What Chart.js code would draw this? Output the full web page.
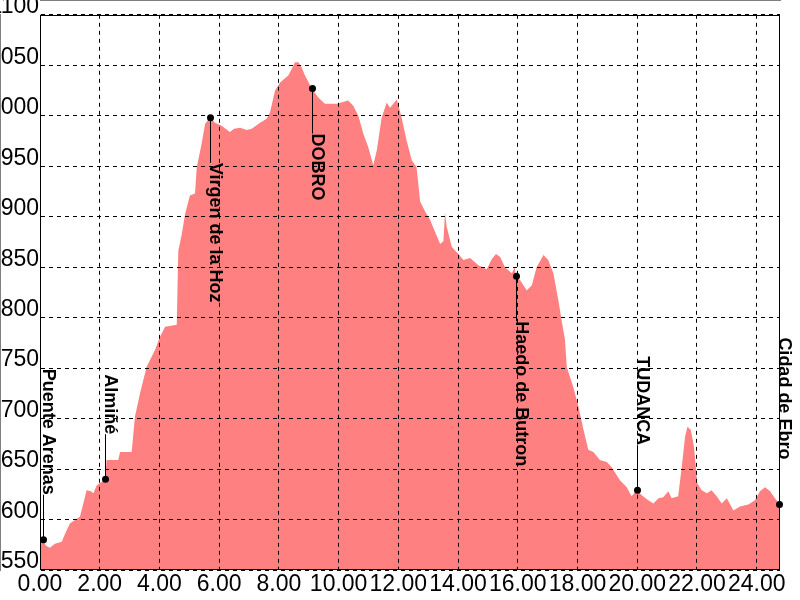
<!DOCTYPE html>
<html>
<head>
<meta charset="utf-8">
<script src="https://cdn.jsdelivr.net/npm/chart.js@4.4.1/dist/chart.umd.min.js"></script>
<style>
  html, body { margin: 0; padding: 0; background: #fff; overflow: hidden; }
  canvas { display: block; }
</style>
</head>
<body>
<canvas id="c" width="800" height="600"></canvas>
<script>
// ---- data ----
const distanceKm = [
  0.00, 0.11, 0.20, 0.33, 0.50, 0.73, 0.84, 1.00, 1.20, 1.34, 1.45, 1.56, 1.70, 1.79, 1.90, 2.05, 2.18, 2.23,
  2.62, 2.68, 3.07, 3.18, 3.35, 3.57, 3.85, 4.02, 4.19, 4.58, 4.63, 4.75, 4.86, 5.02, 5.19, 5.25, 5.41, 5.53,
  5.69, 5.86, 6.08, 6.36, 6.50, 6.70, 6.92, 7.09, 7.37, 7.59, 7.70, 7.87, 8.04, 8.32, 8.54, 8.65, 8.76, 8.87,
  9.10, 9.32, 9.54, 9.94, 10.32, 10.49, 10.66, 10.83, 10.99, 11.16, 11.28, 11.44, 11.61, 11.72, 11.95, 12.11,
  12.28, 12.45, 12.61, 12.73, 12.90, 13.06, 13.40, 13.51, 13.56, 13.62, 13.79, 14.01, 14.18, 14.40, 14.68,
  14.96, 15.13, 15.27, 15.41, 15.57, 15.80, 15.90, 15.93, 16.08, 16.30, 16.47, 16.63, 16.86, 17.02, 17.19,
  17.36, 17.47, 17.58, 17.64, 17.86, 18.03, 18.20, 18.36, 18.53, 18.75, 18.98, 19.14, 19.42, 19.65, 19.81,
  19.98, 20.15, 20.37, 20.54, 20.71, 20.87, 21.04, 21.15, 21.37, 21.49, 21.60, 21.68, 21.79, 21.90, 22.01,
  22.16, 22.33, 22.49, 22.66, 22.83, 23.00, 23.22, 23.44, 23.72, 23.94, 24.11, 24.28, 24.45, 24.61, 24.78
];
const elevationM = [
  580, 580, 574, 572, 576, 578, 586, 596, 600, 603, 616, 629, 628, 626, 634, 637, 640, 659,
  659, 667, 667, 702, 725, 751, 768, 781, 791, 793, 866, 883, 903, 921, 923, 949, 972, 992,
  998, 993, 990, 984, 987, 988, 986, 987, 993, 997, 1003, 1025, 1033, 1040, 1053, 1053, 1048, 1040,
  1027, 1018, 1012, 1012, 1015, 1010, 1000, 982, 969, 951, 966, 998, 1013, 1008, 1016, 998,
  975, 956, 949, 915, 905, 897, 873, 876, 904, 890, 870, 863, 857, 859, 852,
  848, 858, 863, 860, 850, 844, 850, 841, 837, 827, 832, 850, 862, 857, 844,
  817, 797, 778, 751, 731, 712, 689, 669, 667, 659, 657, 652, 639, 632, 623,
  629, 624, 619, 616, 621, 622, 628, 621, 623, 652, 682, 692, 689, 672, 636,
  629, 626, 629, 623, 616, 621, 609, 613, 615, 619, 628, 632, 628, 621, 615
];
const markerNames = ["Puente Arenas", "Almiñé", "Virgen de la Hoz", "DOBRO", "Haedo de Butron", "TUDANCA", "Cidad de Ebro"];
const markerKm    = [0.11, 2.18, 5.69, 9.12, 15.93, 19.98, 24.75];
const markerElev  = [580, 640, 998, 1027, 841, 629, 615];
const xTicks = [0, 2, 4, 6, 8, 10, 12, 14, 16, 18, 20, 22, 24];
const yTicks = [550, 600, 650, 700, 750, 800, 850, 900, 950, 1000, 1050, 1100];

// ---- chart ----
const FONT = '"Liberation Sans", Arial, sans-serif';

const markerPlugin = {
  id: 'markers',
  afterDraw(chart) {
    const { ctx, chartArea, scales: { x, y } } = chart;
    ctx.save();
    ctx.strokeStyle = '#000';
    ctx.lineWidth = 1;
    ctx.setLineDash([]);
    ctx.strokeRect(Math.round(chartArea.left) + 0.5, Math.round(chartArea.top) + 0.5,
      Math.round(chartArea.right - chartArea.left) - 1, Math.round(chartArea.bottom - chartArea.top) - 1);
    ctx.font = 'bold 18px ' + FONT;
    markerNames.forEach((name, i) => {
      const px = Math.round(x.getPixelForValue(markerKm[i])) + 0.5;
      const py = y.getPixelForValue(markerElev[i]);
      const below = markerElev[i] > 800;
      const end = below ? py + 45 : py - 45;
      ctx.strokeStyle = '#000';
      ctx.beginPath(); ctx.moveTo(px, py); ctx.lineTo(px, end); ctx.stroke();
      ctx.fillStyle = '#000';
      ctx.beginPath(); ctx.arc(px, py, 3.5, 0, Math.PI * 2); ctx.fill();
      ctx.save();
      ctx.translate(px - 0.5, end);
      ctx.rotate(Math.PI / 2);
      ctx.textBaseline = 'alphabetic';
      ctx.textAlign = below ? 'left' : 'right';
      ctx.fillText(name, 0, 0);
      ctx.restore();
    });
    ctx.restore();
  }
};

new Chart(document.getElementById('c'), {
  type: 'line',
  data: {
    datasets: [{
      data: distanceKm.map((d, i) => ({ x: d, y: elevationM[i] })),
      fill: 'start',
      backgroundColor: '#FF8080',
      borderWidth: 0,
      borderColor: 'rgba(0,0,0,0)',
      pointRadius: 0,
      tension: 0
    }]
  },
  options: {
    responsive: false,
    animation: false,
    devicePixelRatio: 1,
    layout: { padding: { left: 0, top: 14, right: 20, bottom: 0 } },
    plugins: { legend: { display: false }, tooltip: { enabled: false } },
    scales: {
      x: {
        type: 'linear',
        min: 0,
        max: distanceKm[distanceKm.length - 1],
        afterBuildTicks: (s) => { s.ticks = xTicks.map(v => ({ value: v })); },
        afterFit: (s) => { s.height = 30; },
        grid: { color: '#000', lineWidth: 1, drawTicks: false, z: 1 },
        border: { display: true, color: '#000', width: 1, dash: [4, 4] },
        ticks: {
          autoSkip: false, maxRotation: 0, minRotation: 0, padding: 1,
          color: '#000', font: { family: FONT, size: 23 },
          callback: (v) => Number(v).toFixed(2)
        }
      },
      y: {
        min: 550,
        max: 1100,
        afterBuildTicks: (s) => { s.ticks = yTicks.map(v => ({ value: v })); },
        afterFit: (s) => { s.width = 40; },
        grid: { color: '#000', lineWidth: 1, drawTicks: false, z: 1 },
        border: { display: true, color: '#000', width: 1, dash: [4, 4] },
        ticks: {
          padding: 1, labelOffset: -8,
          color: '#000', font: { family: FONT, size: 23 },
          callback: (v) => String(v)
        }
      }
    }
  },
  plugins: [markerPlugin]
});
</script>
</body>
</html>
